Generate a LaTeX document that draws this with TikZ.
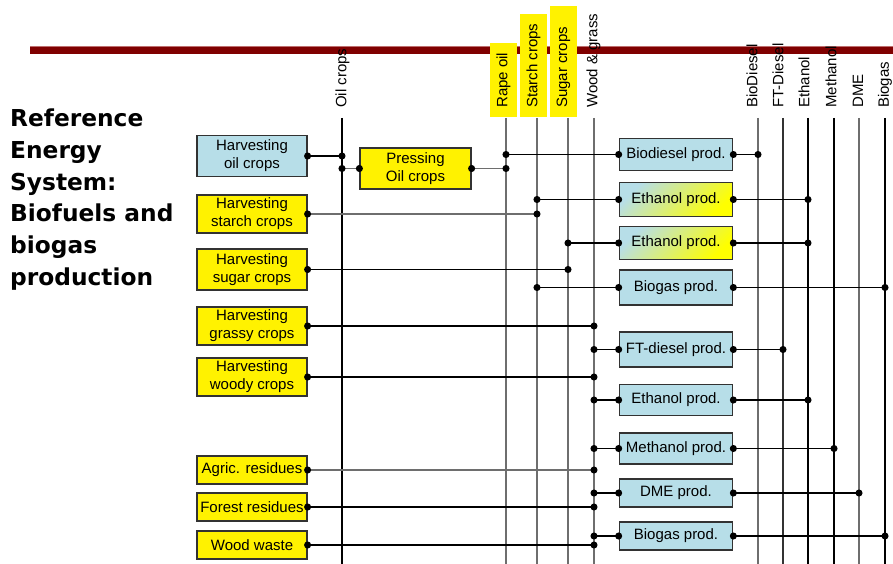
\documentclass[tikz,border=0pt]{standalone}
\usepackage{fontspec}
\setmainfont{Liberation Sans}
\newfontfamily\titlefont{DejaVu Sans}
\usetikzlibrary{arrows.meta}
\definecolor{lblue}{RGB}{183,222,232}
\definecolor{barred}{RGB}{128,0,0}
\definecolor{barlight}{RGB}{190,110,110}
\definecolor{lgray}{RGB}{110,110,110}
\definecolor{bord}{RGB}{50,50,50}
\begin{document}
\begin{tikzpicture}[x=1pt,y=-1pt,
  box/.style={draw=bord, line width=1.2pt, inner sep=0pt, align=center, font=\fontsize{15}{18}\selectfont},
  src/.style={box, fill=yellow, minimum width=110pt},
  proc/.style={box, fill=lblue, minimum width=113.5pt},
  mixp/.style={box, top color=lblue, bottom color=yellow, shading angle=45, minimum width=113.5pt},
  lab/.style={rotate=90, anchor=west, inner sep=0pt, font=\fontsize{15}{18}\selectfont},
  bus/.style={line width=1.1pt},
  link/.style={line width=1.1pt, {Circle[length=7pt,width=7pt,color=black]}-{Circle[length=7pt,width=7pt,color=black]}, shorten <=-3.5pt, shorten >=-3.5pt},
  glink/.style={link, lgray},
]
\useasboundingbox (0,0) rectangle (893,564);

% red bar
\fill[barred] (30,46.5) rectangle (893,54);
\fill[barlight] (30,46) rectangle (893,47.3);

% yellow label backgrounds
\fill[yellow] (490,43) rectangle (517,117);
\fill[yellow] (520,14) rectangle (547,117);
\fill[yellow] (550,6) rectangle (577,117);

% bus lines
\foreach \n/\x/\c in {Oil/342/black, Rape/506/lgray, Starch/537/lgray, Sugar/568/lgray, Wood/594/lgray,
  BD/758/lgray, FT/783/black!80, Eth/808/black, Meth/834/black, DME/859/lgray, BG/885/black} {
  \coordinate (t\n) at (\x,118);
  \coordinate (e\n) at (\x,564);
  \draw[bus,\c] (t\n) -- (e\n);
}

% bus labels
\node[lab] (lOil) at (342.5,108) {Oil crops};
\node[lab] (lRape) at (503.5,108) {Rape oil};
\node[lab] (lStarch) at (533.5,108) {Starch crops};
\node[lab] (lSugar) at (563.5,108) {Sugar crops};
\node[lab] (lWood) at (593.5,108) {Wood \& grass};
\node[lab] (lBD) at (752,108) {BioDiesel};
\node[lab] (lFT) at (778,108) {FT-Diesel};
\node[lab] (lEth) at (804,108) {Ethanol};
\node[lab] (lMeth) at (831,108) {Methanol};
\node[lab] (lDME) at (858,108) {DME};
\node[lab] (lBG) at (885,108) {Biogas};

% title
\node[anchor=north west, align=left, inner sep=0pt,
  font=\titlefont\bfseries\fontsize{23.3}{31.8}\selectfont] (title) at (10,108.5)
  {Reference\\Energy\\System:\\Biofuels and\\biogas\\production};

% source boxes
\node[src, fill=lblue, minimum height=41pt] (hoil) at (252,156) {Harvesting\\oil crops};
\node[src, minimum height=38pt] (hst) at (252,214) {Harvesting\\starch crops};
\node[src, minimum height=41pt] (hsu) at (252,269.5) {Harvesting\\sugar crops};
\node[src, minimum height=38pt] (hgr) at (252,326) {Harvesting\\grassy crops};
\node[src, minimum height=38pt] (hwo) at (252,377) {Harvesting\\woody crops};
\node[src, minimum height=28pt] (hag) at (252,470) {Agric. residues};
\node[src, minimum height=28pt] (hfo) at (252,507) {Forest residues};
\node[src, minimum height=28pt] (hww) at (252,545) {Wood waste};

% pressing
\node[src, minimum width=111pt, minimum height=41pt] (press) at (415.5,168.5) {Pressing\\Oil crops};

% process boxes
\node[proc, minimum height=32pt] (pbd) at (676,154.5) {Biodiesel prod.};
\node[mixp, minimum height=34pt] (pe1) at (676,199.5) {Ethanol prod.};
\node[mixp, minimum height=33pt] (pe2) at (676,243) {Ethanol prod.};
\node[proc, minimum height=35pt] (pbg1) at (676,287.5) {Biogas prod.};
\node[proc, minimum height=35pt] (pft) at (676,349.5) {FT-diesel prod.};
\node[proc, minimum height=31pt] (pe3) at (676,400) {Ethanol prod.};
\node[proc, minimum height=31pt] (pme) at (676,448.5) {Methanol prod.};
\node[proc, minimum height=28pt] (pdme) at (676,493) {DME prod.};
\node[proc, minimum height=28pt] (pbg2) at (676,536) {Biogas prod.};

% connectors: sources to buses
\draw[link] (hoil.east) -- (hoil.east -| tOil);
\draw[glink] (press.west -| tOil) -- (press.west);
\draw[glink] (press.east) -- (press.east -| tRape);
\draw[glink] (hst.east) -- (hst.east -| tStarch);
\draw[link] (hsu.east) -- (hsu.east -| tSugar);
\draw[link] (hgr.east) -- (hgr.east -| tWood);
\draw[link] (hwo.east) -- (hwo.east -| tWood);
\draw[glink] (hag.east) -- (hag.east -| tWood);
\draw[link] (hfo.east) -- (hfo.east -| tWood);
\draw[link] (hww.east) -- (hww.east -| tWood);

% buses to processes
\draw[link] (pbd.west -| tRape) -- (pbd.west);
\draw[link] (pe1.west -| tStarch) -- (pe1.west);
\draw[link] (pe2.west -| tSugar) -- (pe2.west);
\draw[link] (pbg1.west -| tStarch) -- (pbg1.west);
\draw[link] (pft.west -| tWood) -- (pft.west);
\draw[link] (pe3.west -| tWood) -- (pe3.west);
\draw[link] (pme.west -| tWood) -- (pme.west);
\draw[link] (pdme.west -| tWood) -- (pdme.west);
\draw[link] (pbg2.west -| tWood) -- (pbg2.west);

% processes to output buses
\draw[link] (pbd.east) -- (pbd.east -| tBD);
\draw[link] (pe1.east) -- (pe1.east -| tEth);
\draw[link] (pe2.east) -- (pe2.east -| tEth);
\draw[link] (pbg1.east) -- (pbg1.east -| tBG);
\draw[link] (pft.east) -- (pft.east -| tFT);
\draw[link] (pe3.east) -- (pe3.east -| tEth);
\draw[link] (pme.east) -- (pme.east -| tMeth);
\draw[link] (pdme.east) -- (pdme.east -| tDME);
\draw[link] (pbg2.east) -- (pbg2.east -| tBG);
\end{tikzpicture}
\end{document}
